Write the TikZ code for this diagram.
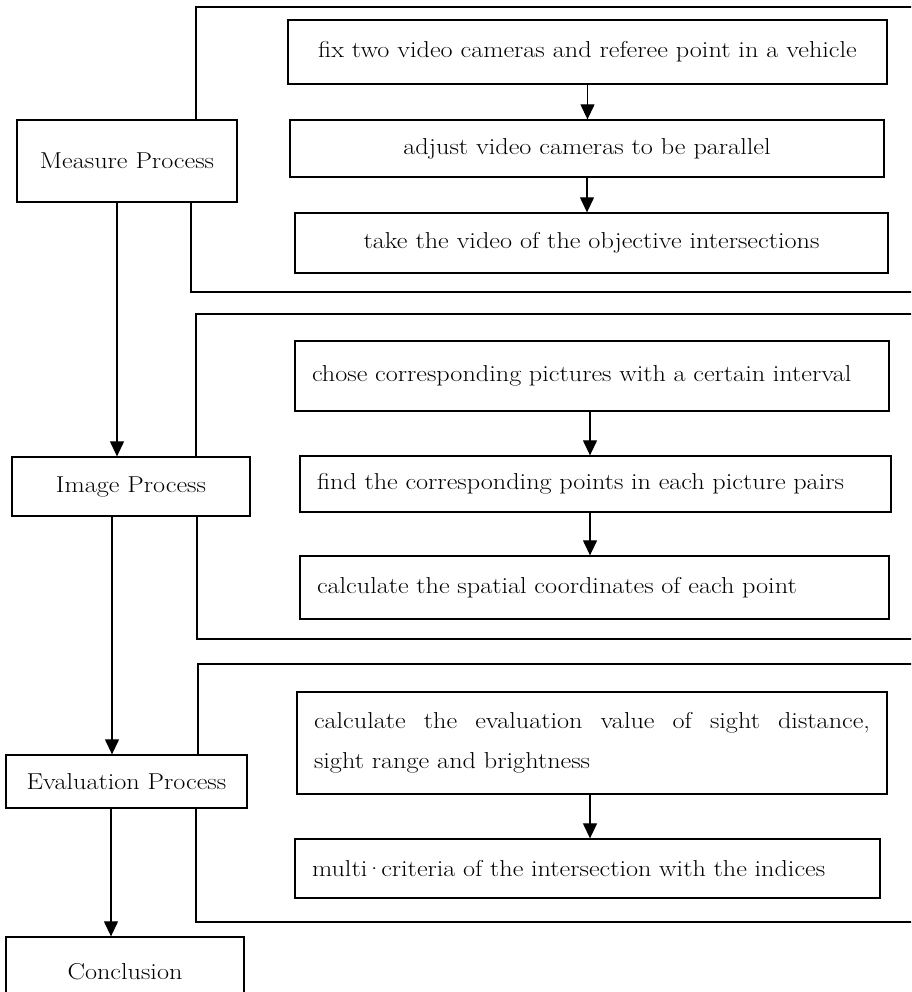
\documentclass[tikz,border=0pt]{standalone}
\usepackage{fontspec}
\setmainfont{Latin Modern Roman}[FakeStretch=1.14]
\usetikzlibrary{arrows.meta}
\begin{document}
\begin{tikzpicture}[x=1pt,y=-1pt,
  box/.style={draw, line width=1.3pt, inner sep=0pt, font=\fontsize{23}{40}\selectfont},
  lbox/.style={box, align=left, inner xsep=17pt},
  cbox/.style={box, align=center},
  arr/.style={line width=1.2pt, -{Triangle[length=15pt,width=14pt]}},
  ln/.style={line width=1.2pt}]
\useasboundingbox (0,0) rectangle (911,992);
\clip (0,0) rectangle (911,992);
% left column
\node[cbox, minimum width=220pt, minimum height=82pt] (m) at (127,161) {Measure Process};
\node[cbox, minimum width=238pt, minimum height=59pt] (i) at (131,486.5) {Image Process};
\node[cbox, minimum width=241pt, minimum height=53pt] (e) at (126.5,781.5) {Evaluation Process};
\node[cbox, minimum width=238pt, minimum height=70pt] (c) at (125,972) {Conclusion};
% right boxes
\node[cbox, minimum width=599pt, minimum height=64pt] (b1) at (587.5,52) {fix two video cameras and referee point in a vehicle};
\node[cbox, minimum width=594pt, minimum height=57pt] (b2) at (587,148.5) {adjust video cameras to be parallel};
\node[cbox, minimum width=593pt, minimum height=60pt] (b3) at (591.5,243) {take the video of the objective intersections};
\node[lbox, text width=560pt, minimum height=70pt] (b4) at (592,376) {chose corresponding pictures with a certain interval};
\node[lbox, text width=557pt, minimum height=56pt] (b5) at (595.5,484) {find the corresponding points in each picture pairs};
\node[lbox, text width=555pt, minimum height=63pt] (b6) at (594.5,587.5) {calculate the spatial coordinates of each point};
\node[box, align=justify, inner xsep=17pt, text width=556pt, minimum height=102pt] (b7) at (592,743) {calculate the evaluation value of sight distance,\linebreak sight range and brightness};
\node[lbox, text width=551pt, minimum height=59pt] (b8) at (587.5,868.5) {multi\kern-2.5pt·\kern-2.5pt criteria of the intersection with the indices};
% coordinates
\coordinate (xa) at (117,0);
\coordinate (xb) at (112,0);
\coordinate (xc) at (111,0);
\coordinate (t1) at (196,7);   \coordinate (r1) at (915,7);
\coordinate (u1) at (191,292); \coordinate (s1) at (915,292);
\coordinate (t2) at (196,314); \coordinate (r2) at (915,314);
\coordinate (u2) at (197,639); \coordinate (s2) at (915,639);
\coordinate (t3) at (198,664); \coordinate (r3) at (915,664);
\coordinate (u3) at (196,922); \coordinate (s3) at (915,922);
% brackets
\draw[ln] (m.north -| t1) -- (t1) -- (r1);
\draw[ln] (m.south -| u1) -- (u1) -- (s1);
\draw[ln] (i.north -| t2) -- (t2) -- (r2);
\draw[ln] (i.south -| u2) -- (u2) -- (s2);
\draw[ln] (e.north -| t3) -- (t3) -- (r3);
\draw[ln] (e.south -| u3) -- (u3) -- (s3);
% left arrows
\draw[arr] (m.south -| xa) -- (i.north -| xa);
\draw[arr] (i.south -| xb) -- (e.north -| xb);
\draw[arr] (e.south -| xc) -- (c.north -| xc);
% right arrows
\draw[arr] (b1.south) -- (b1.south |- b2.north);
\draw[arr] (b2.south) -- (b2.south |- b3.north);
\coordinate (xr) at (590,0);
\draw[arr] (b4.south -| xr) -- (b5.north -| xr);
\draw[arr] (b5.south -| xr) -- (b6.north -| xr);
\draw[arr] (b7.south -| xr) -- (b8.north -| xr);
\end{tikzpicture}
\end{document}
